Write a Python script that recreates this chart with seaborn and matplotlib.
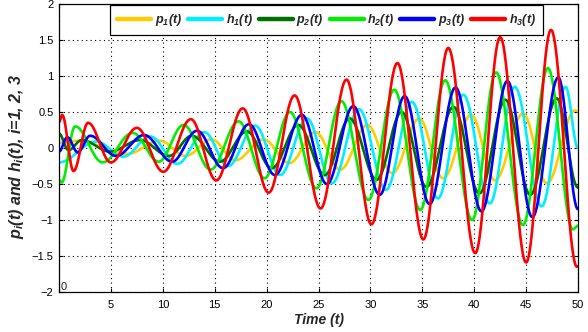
import numpy as np
import pandas as pd
import matplotlib
matplotlib.use("Agg")
import matplotlib.pyplot as plt
import seaborn as sns

# ---- data: extrema (time, value) ----
p1_t = [0, 1.8, 6.6, 9.7, 12.2, 14.7, 17.0, 19.7, 22.2, 24.7, 27.1, 29.7, 32.1, 34.7, 37.0, 39.7, 42.0, 44.7, 47.0, 49.7, 50]
p1_v = [0.07, 0.10, -0.08, 0.10, -0.11, 0.12, -0.17, 0.12, -0.21, 0.22, -0.30, 0.32, -0.35, 0.41, -0.42, 0.46, -0.45, 0.48, -0.49, 0.52, 0.51]

h1_t = [0, 3.6, 6.2, 8.8, 11.4, 14.0, 16.3, 18.9, 21.3, 23.9, 26.3, 28.9, 31.5, 34.0, 36.5, 38.95, 41.5, 43.9, 46.5, 48.8, 50]
h1_v = [-0.20, 0.09, -0.12, 0.16, -0.22, 0.22, -0.25, 0.31, -0.375, 0.41, -0.49, 0.54, -0.58, 0.64, -0.70, 0.74, -0.77, 0.85, -0.81, 0.85, 0.0]

p2_t = [0, 0.9, 2.2, 4.9, 7.8, 10.6, 12.8, 15.5, 18.1, 20.5, 23.05, 25.6, 28.0, 30.6, 33.0, 35.4, 38.0, 40.5, 43.0, 45.4, 47.95, 50]
p2_v = [0.20, -0.03, 0.11, -0.05, 0.11, -0.11, 0.17, -0.19, 0.23, -0.28, 0.32, -0.375, 0.41, -0.44, 0.50, -0.54, 0.57, -0.63, 0.67, -0.65, 0.69, -0.55]

h2_t = [0, 0.25, 1.55, 4.2, 7.1, 9.6, 12.0, 14.6, 17.3, 19.8, 22.25, 24.8, 27.2, 29.8, 32.3, 34.8, 37.2, 39.8, 42.1, 44.7, 47.1, 49.5, 50]
h2_v = [-0.44, -0.48, 0.30, -0.20, 0.21, -0.19, 0.32, -0.30, 0.37, -0.42, 0.50, -0.56, 0.65, -0.72, 0.81, -0.86, 0.94, -1.00, 1.05, -1.07, 1.11, -1.13, -1.08]

p3_t = [0, 0.8, 1.8, 3.0, 5.5, 8.2, 10.9, 13.3, 15.8, 18.3, 20.8, 23.4, 25.8, 28.35, 30.9, 33.3, 35.7, 38.2, 40.7, 43.2, 45.6, 48.1, 50]
p3_v = [-0.05, 0.15, -0.06, 0.17, -0.11, 0.18, -0.19, 0.24, -0.28, 0.33, -0.375, 0.46, -0.50, 0.58, -0.65, 0.72, -0.78, 0.84, -0.88, 0.93, -0.96, 0.98, -0.85]

h3_t = [0, 0.3, 1.4, 2.8, 5.0, 7.5, 10.05, 12.7, 15.15, 17.7, 20.2, 22.7, 25.2, 27.7, 30.1, 32.6, 35.1, 37.5, 40.1, 42.5, 45.0, 47.4, 49.9, 50]
h3_v = [0.36, 0.46, -0.32, 0.35, -0.20, 0.28, -0.33, 0.40, -0.45, 0.55, -0.62, 0.73, -0.84, 0.95, -1.06, 1.18, -1.27, 1.39, -1.46, 1.54, -1.59, 1.64, -1.65, -1.64]

series_names = ["p1", "h1", "p2", "h2", "p3", "h3"]
legend_labels = [r"$p_1(t)$", r"$h_1(t)$", r"$p_2(t)$", r"$h_2(t)$", r"$p_3(t)$", r"$h_3(t)$"]
colors = ["#FFCC00", "#00EEFF", "#007000", "#00EE00", "#0000FF", "#FF0000"]

x_ticks = [0, 5, 10, 15, 20, 25, 30, 35, 40, 45, 50]
y_ticks = [-2, -1.5, -1, -0.5, 0, 0.5, 1, 1.5, 2]


def smooth_path(ts, vs, n=40):
    """Smooth half-cosine segments between consecutive read extrema."""
    out_t, out_v = [], []
    for i in range(len(ts) - 1):
        s = np.linspace(0, 1, n, endpoint=False)
        w = (1 - np.cos(np.pi * s)) / 2
        out_t.extend(ts[i] + (ts[i + 1] - ts[i]) * s)
        out_v.extend(vs[i] + (vs[i + 1] - vs[i]) * w)
    out_t.append(ts[-1])
    out_v.append(vs[-1])
    return out_t, out_v


frames = []
for name, ts, vs in zip(series_names,
                        [p1_t, h1_t, p2_t, h2_t, p3_t, h3_t],
                        [p1_v, h1_v, p2_v, h2_v, p3_v, h3_v]):
    tt, vv = smooth_path(ts, vs)
    frames.append(pd.DataFrame({"t": tt, "v": vv, "series": name}))
df = pd.concat(frames, ignore_index=True)

sns.set_style("ticks")
plt.rcParams["font.family"] = ["Liberation Sans", "DejaVu Sans"]
plt.rcParams["mathtext.fontset"] = "custom"
plt.rcParams["mathtext.rm"] = "Liberation Sans:italic:bold"
plt.rcParams["mathtext.it"] = "Liberation Sans:italic:bold"
plt.rcParams["mathtext.bf"] = "Liberation Sans:italic:bold"

fig = plt.figure(figsize=(5.88, 3.32), dpi=100)
ax = fig.add_axes([59 / 588, 1 - 292 / 332, (578 - 59) / 588, (292 - 4) / 332])

sns.lineplot(data=df, x="t", y="v", hue="series", hue_order=series_names,
             palette=colors, linewidth=1.9, estimator=None, sort=False,
             legend=False, ax=ax)

ax.set_xlim(0, 50)
ax.set_ylim(-2, 2)
ax.set_xticks(x_ticks)
ax.set_xticklabels([""] + [str(v) for v in x_ticks[1:]])
ax.set_yticks(y_ticks)
ax.set_yticklabels(["\u22122", "\u22121.5", "\u22121", "\u22120.5", "0", "0.5", "1", "1.5", "2"])
ax.text(0.004, 0.0, "0", transform=ax.transAxes, ha="left", va="bottom", fontsize=8)

ax.tick_params(direction="in", length=3, width=0.8, top=True, right=True,
               labelsize=8, colors="black")
ax.tick_params(axis="x", pad=6)
ax.tick_params(axis="y", pad=4)
for sp in ax.spines.values():
    sp.set_visible(True)
    sp.set_color("black")
    sp.set_linewidth(0.9)
ax.grid(True, linestyle=(0, (1, 3)), color="black", linewidth=0.8)

ax.set_xlabel("Time (t)", fontsize=10, fontweight="bold", fontstyle="italic", labelpad=2)
ax.set_ylabel(r"$p_i(t)$ and $h_i(t)$, i=1, 2, 3", fontsize=11.5,
              fontweight="bold", fontstyle="italic")
ax.yaxis.set_label_coords(-0.064, 0.47)

lines = ax.get_lines()[:6]
for ln in lines:
    ln.set_solid_capstyle("round")
leg = ax.legend(lines, legend_labels, loc="upper center",
                bbox_to_anchor=(326.5 / 588, 1 - 5 / 332),
                bbox_transform=fig.transFigure, ncol=6, frameon=True,
                fancybox=False, edgecolor="black", framealpha=1,
                fontsize=9, handlelength=2.7, handletextpad=0.3,
                columnspacing=0.5, borderpad=0.55, borderaxespad=0)
leg.get_frame().set_linewidth(0.9)
for lh in leg.get_lines():
    lh.set_linewidth(3.2)

fig.savefig("out.png", dpi=100)
